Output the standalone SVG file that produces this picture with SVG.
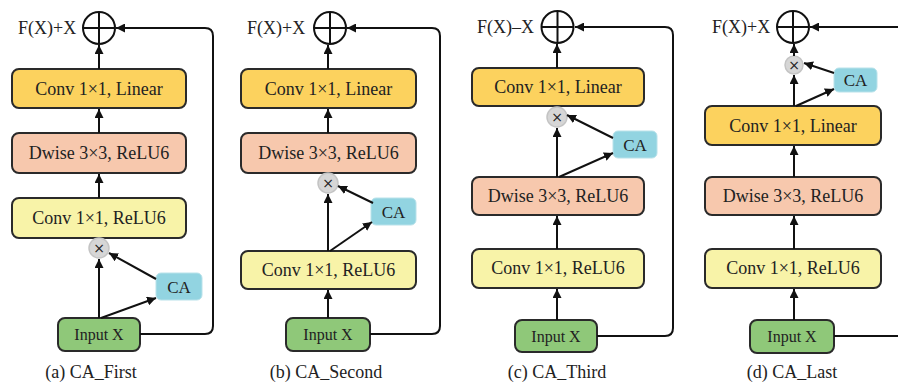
<svg xmlns="http://www.w3.org/2000/svg" width="898" height="387" viewBox="0 0 898 387">
<defs>
<marker id="ah" viewBox="0 0 10 10" refX="10" refY="5" markerWidth="9" markerHeight="9" markerUnits="userSpaceOnUse" orient="auto">
<path d="M0,0 L10,5 L0,10 Z" fill="#111"/>
</marker>
</defs>
<style>
.box{stroke:#2a2a2a;stroke-width:2}
.lin{fill:#fcd25e}
.dw{fill:#f7c8ad}
.relu{fill:#f8f3a8}
.ca{fill:#92d4e1;stroke:#b9e2ea;stroke-width:1}
.inp{fill:#8fc879}
.mul{fill:#d6d6d6;stroke:#c4c4c4;stroke-width:1.5}
.plus{fill:#fff;stroke:#111;stroke-width:2}
.t{font-family:"Liberation Serif","Times New Roman",serif;fill:#222;text-anchor:middle}
.bt{font-size:18px}
.it{font-size:16px}
.ct{font-size:17px}
.lab{font-size:18px;text-anchor:start}
.cap{font-size:18px}
.x{font-size:14px;font-family:"DejaVu Sans",sans-serif;fill:#222;text-anchor:middle}
.c{fill:none;stroke:#111;stroke-width:2}
</style>
<rect width="898" height="387" fill="#fff"/>

<!-- Panel (a) -->
<g id="a_plus"><circle class="plus" cx="99" cy="28" r="16"/><path d="M83,28 H115 M99,12 V44" stroke="#111" stroke-width="2"/><text class="t lab" x="18" y="34">F(X)+X</text></g>
<g id="a_linear"><rect class="box lin" x="12" y="69" width="174" height="39" rx="7"/><text class="t bt" x="99" y="95">Conv 1×1, Linear</text></g>
<g id="a_dwise"><rect class="box dw" x="12" y="133" width="174" height="40" rx="7"/><text class="t bt" x="99" y="159">Dwise 3×3, ReLU6</text></g>
<g id="a_relu"><rect class="box relu" x="12" y="198" width="174" height="40" rx="7"/><text class="t bt" x="99" y="224">Conv 1×1, ReLU6</text></g>
<g id="a_mul"><circle class="mul" cx="99" cy="248" r="10"/><text class="x" x="99" y="253">×</text></g>
<g id="a_ca"><rect class="ca" x="156" y="273" width="46" height="27" rx="5"/><text class="t ct" x="179" y="293">CA</text></g>
<g id="a_input"><rect class="box inp" x="58" y="318" width="82" height="33" rx="7"/><text class="t it" x="99" y="340">Input X</text></g>
<text class="t cap" x="91" y="378">(a) CA_First</text>

<!-- Panel (b) -->
<g id="b_plus"><circle class="plus" cx="330" cy="28" r="16"/><path d="M314,28 H346 M330,12 V44" stroke="#111" stroke-width="2"/><text class="t lab" x="247" y="34">F(X)+X</text></g>
<g id="b_linear"><rect class="box lin" x="241" y="69" width="175" height="39" rx="7"/><text class="t bt" x="328.5" y="95">Conv 1×1, Linear</text></g>
<g id="b_dwise"><rect class="box dw" x="241" y="133" width="175" height="40" rx="7"/><text class="t bt" x="328.5" y="159">Dwise 3×3, ReLU6</text></g>
<g id="b_mul"><circle class="mul" cx="328" cy="183" r="10"/><text class="x" x="328" y="188">×</text></g>
<g id="b_ca"><rect class="ca" x="371" y="198" width="45" height="27" rx="5"/><text class="t ct" x="393.5" y="218">CA</text></g>
<g id="b_relu"><rect class="box relu" x="241" y="251" width="175" height="38" rx="7"/><text class="t bt" x="328.5" y="276">Conv 1×1, ReLU6</text></g>
<g id="b_input"><rect class="box inp" x="286" y="318" width="84" height="33" rx="7"/><text class="t it" x="328" y="340">Input X</text></g>
<text class="t cap" x="326" y="378">(b) CA_Second</text>

<!-- Panel (c) -->
<g id="c_plus"><circle class="plus" cx="557.5" cy="27" r="16"/><path d="M541.5,27 H573.5 M557.5,11 V43" stroke="#111" stroke-width="2"/><text class="t lab" x="477" y="33">F(X)–X</text></g>
<g id="c_linear"><rect class="box lin" x="472" y="68" width="172" height="38" rx="7"/><text class="t bt" x="558" y="93">Conv 1×1, Linear</text></g>
<g id="c_mul"><circle class="mul" cx="557" cy="117" r="10"/><text class="x" x="557" y="122">×</text></g>
<g id="c_ca"><rect class="ca" x="613" y="131" width="44" height="27" rx="5"/><text class="t ct" x="635" y="151">CA</text></g>
<g id="c_dwise"><rect class="box dw" x="472" y="177" width="172" height="38" rx="7"/><text class="t bt" x="558" y="202">Dwise 3×3, ReLU6</text></g>
<g id="c_relu"><rect class="box relu" x="472" y="249" width="172" height="39" rx="7"/><text class="t bt" x="558" y="274">Conv 1×1, ReLU6</text></g>
<g id="c_input"><rect class="box inp" x="515" y="320" width="82" height="32" rx="7"/><text class="t it" x="556" y="342">Input X</text></g>
<text class="t cap" x="557" y="378">(c) CA_Third</text>

<!-- Panel (d) -->
<g id="d_plus"><circle class="plus" cx="793" cy="27" r="16"/><path d="M777,27 H809 M793,11 V43" stroke="#111" stroke-width="2"/><text class="t lab" x="712" y="33">F(X)+X</text></g>
<g id="d_mul"><circle class="mul" cx="794" cy="65" r="9"/><text class="x" x="794" y="70">×</text></g>
<g id="d_ca"><rect class="ca" x="834" y="68" width="43" height="24" rx="5"/><text class="t ct" x="855.5" y="86">CA</text></g>
<g id="d_linear"><rect class="box lin" x="705" y="106" width="176" height="39" rx="7"/><text class="t bt" x="793" y="132">Conv 1×1, Linear</text></g>
<g id="d_dwise"><rect class="box dw" x="705" y="177" width="176" height="38" rx="7"/><text class="t bt" x="793" y="202">Dwise 3×3, ReLU6</text></g>
<g id="d_relu"><rect class="box relu" x="705" y="249" width="176" height="39" rx="7"/><text class="t bt" x="793" y="274">Conv 1×1, ReLU6</text></g>
<g id="d_input"><rect class="box inp" x="750" y="320" width="84" height="33" rx="7"/><text class="t it" x="792" y="342">Input X</text></g>
<text class="t cap" x="792" y="378">(d) CA_Last</text>

<g id="connectors">
<!-- a -->
<path class="c" d="M99,69 V45" marker-end="url(#ah)"/>
<path class="c" d="M99,133 V109" marker-end="url(#ah)"/>
<path class="c" d="M99,198 V174" marker-end="url(#ah)"/>
<path class="c" d="M99,318 V259" marker-end="url(#ah)"/>
<path class="c" d="M101,318 L156,298" marker-end="url(#ah)"/>
<path class="c" d="M156,279 L109,253" marker-end="url(#ah)"/>
<path class="c" d="M140,334 H205 Q213,334 213,326 V36 Q213,28 205,28 H116" marker-end="url(#ah)"/>
<!-- b -->
<path class="c" d="M328,69 V45" marker-end="url(#ah)"/>
<path class="c" d="M328,133 V109" marker-end="url(#ah)"/>
<path class="c" d="M328,251 V194" marker-end="url(#ah)"/>
<path class="c" d="M330,251 L372,222" marker-end="url(#ah)"/>
<path class="c" d="M373,203 L338,186" marker-end="url(#ah)"/>
<path class="c" d="M328,318 V290" marker-end="url(#ah)"/>
<path class="c" d="M370,334 H432 Q440,334 440,326 V36 Q440,28 432,28 H347" marker-end="url(#ah)"/>
<!-- c -->
<path class="c" d="M557,68 V44" marker-end="url(#ah)"/>
<path class="c" d="M557,177 V128" marker-end="url(#ah)"/>
<path class="c" d="M559,177 L613,153" marker-end="url(#ah)"/>
<path class="c" d="M613,138 L567,115" marker-end="url(#ah)"/>
<path class="c" d="M557,249 V216" marker-end="url(#ah)"/>
<path class="c" d="M557,320 V289" marker-end="url(#ah)"/>
<path class="c" d="M597,336 H665 Q673,336 673,328 V35 Q673,27 665,27 H575" marker-end="url(#ah)"/>
<!-- d -->
<path class="c" d="M794,56 V44" marker-end="url(#ah)"/>
<path class="c" d="M794,106 V75" marker-end="url(#ah)"/>
<path class="c" d="M796,106 L834,89" marker-end="url(#ah)"/>
<path class="c" d="M834,73 L804,63" marker-end="url(#ah)"/>
<path class="c" d="M794,177 V146" marker-end="url(#ah)"/>
<path class="c" d="M794,249 V216" marker-end="url(#ah)"/>
<path class="c" d="M794,320 V289" marker-end="url(#ah)"/>
<path class="c" d="M834,336 H902 Q910,336 910,328 V35 Q910,27 902,27 H810" marker-end="url(#ah)"/>
</g>
</svg>
